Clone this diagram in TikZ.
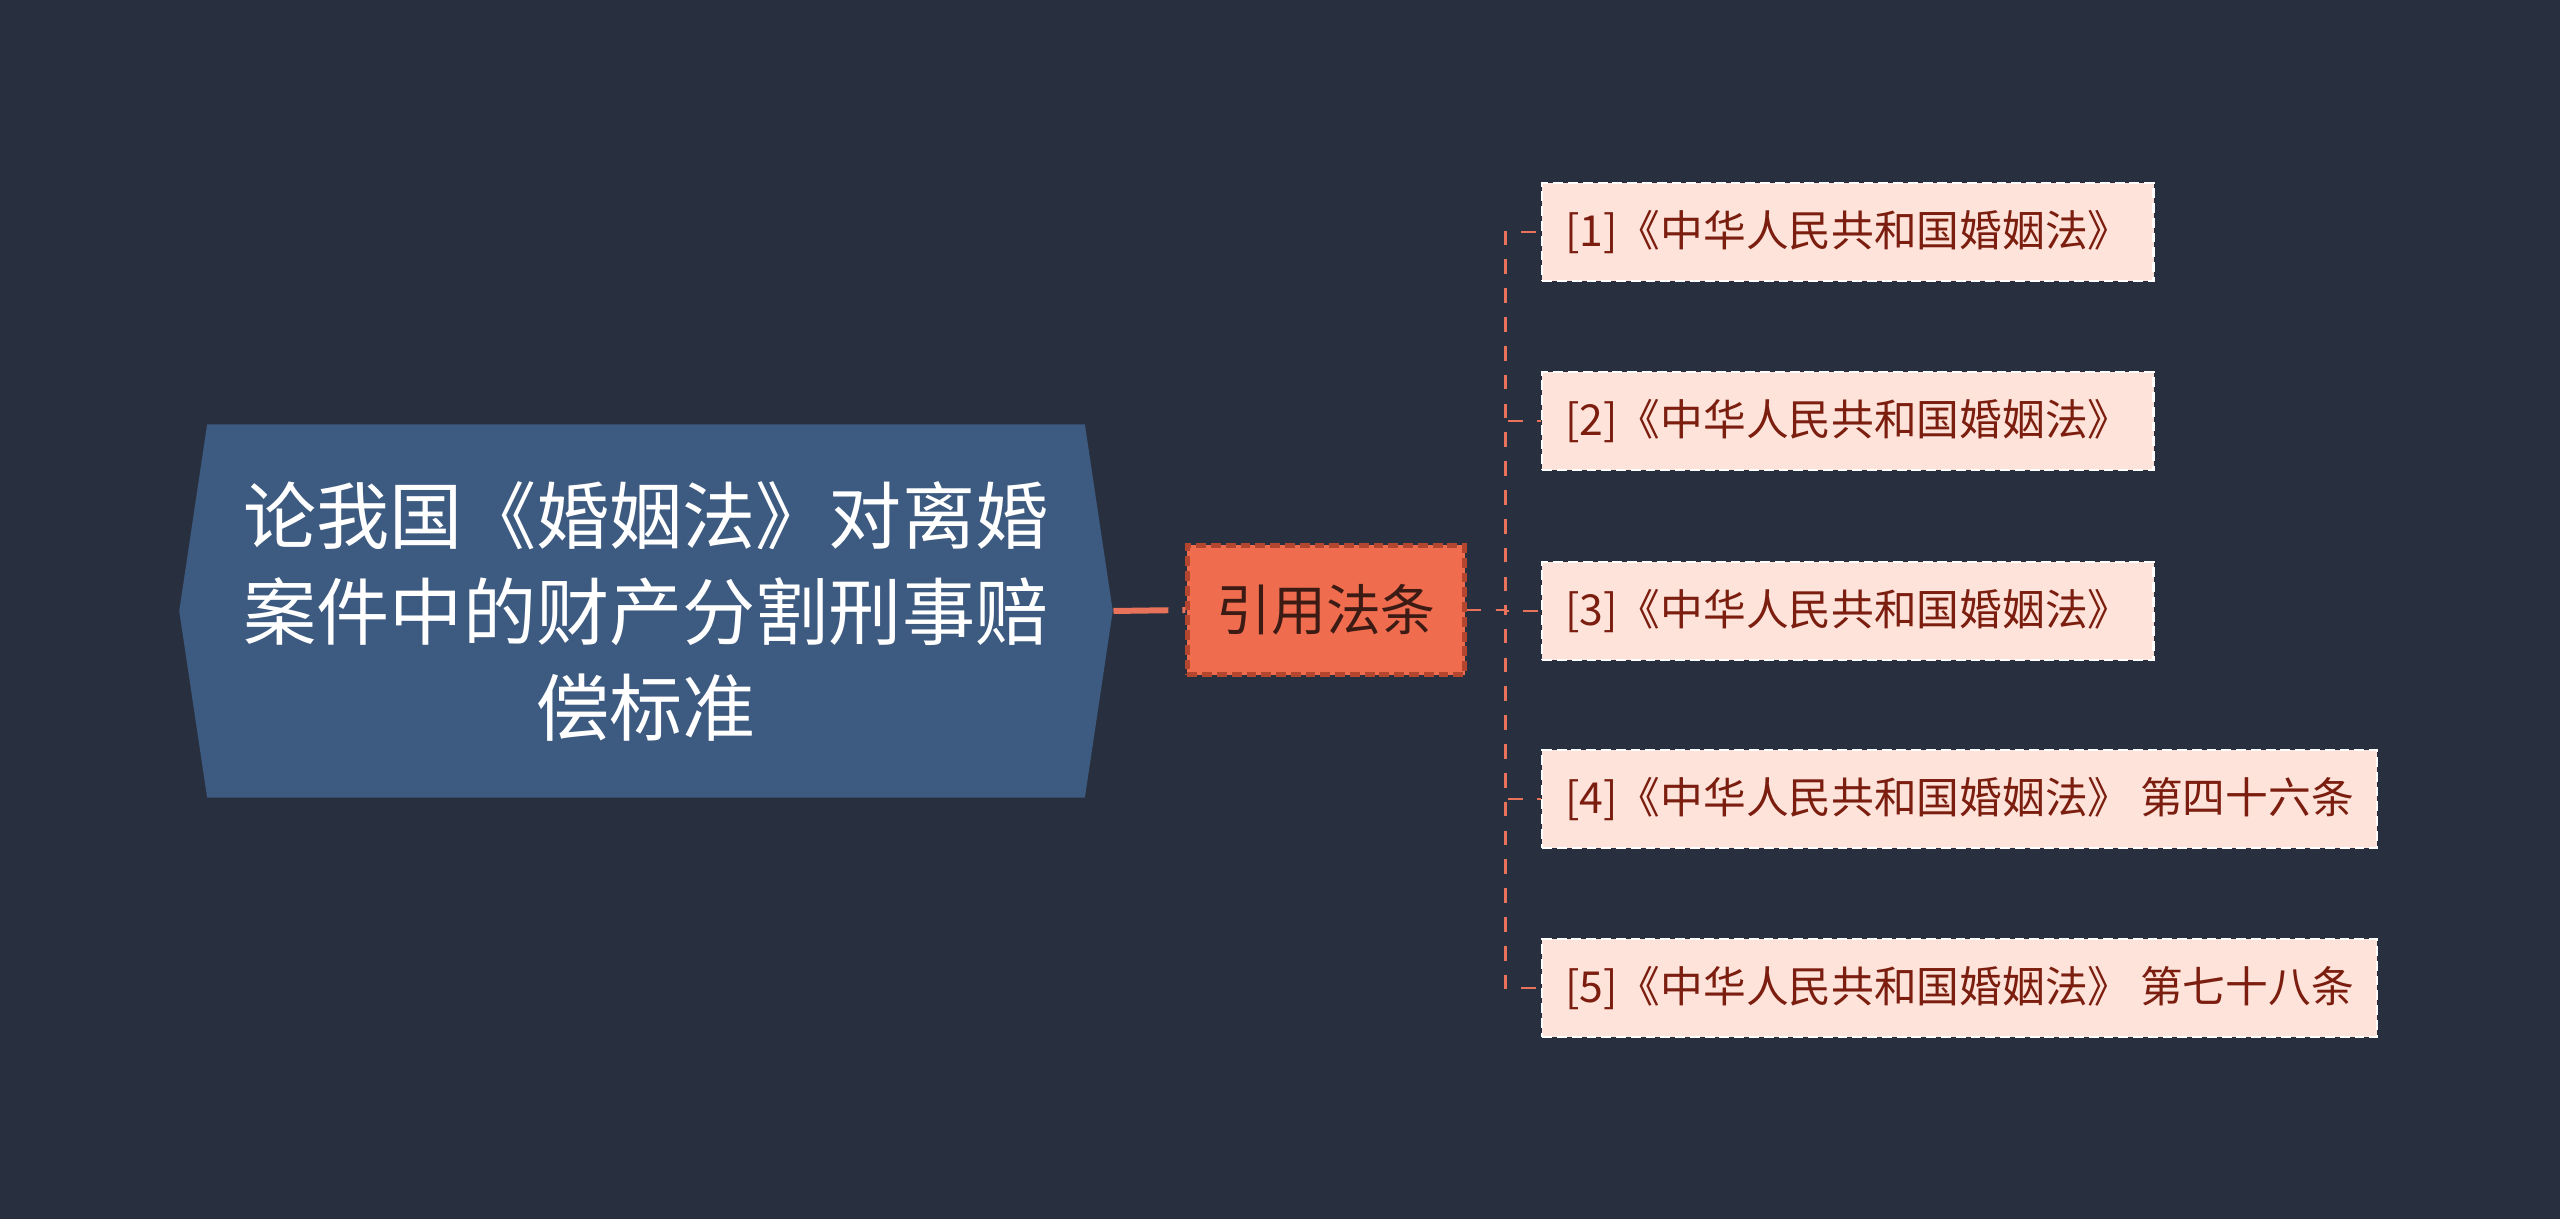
\documentclass[tikz,border=0pt]{standalone}
\usepackage{fontspec}
\setmainfont{Noto Sans CJK SC}
\usetikzlibrary{positioning,shapes.symbols,calc}
\definecolor{BgColor}{HTML}{282F3E}
\definecolor{RootColor}{HTML}{3D5A80}
\definecolor{MidColor}{HTML}{EF6C4F}
\definecolor{MidLine}{HTML}{B4462F}
\definecolor{LeafColor}{HTML}{FDE3DA}
\definecolor{LeafText}{HTML}{7B1E0F}
\definecolor{LinkColor}{HTML}{E8735A}
\tikzset{rootbox/.style={shape=signal,signal to=west and east,signal pointer angle=163,
			fill=RootColor,text=white,align=center,minimum width=9.33cm,minimum height=3.73cm,
			inner sep=0pt,font=\fontsize{20.8}{27.3}\selectfont},
	midbox/.style={draw=MidLine,fill=MidColor,line width=1.2pt,dash pattern=on 2.8pt off 1.4pt,
			text=black!75!MidColor,minimum width=2.77cm,minimum height=1.29cm,inner sep=0pt,
			font=\fontsize{15.6}{18}\selectfont},
	leafbox/.style={draw=white,fill=LeafColor,line width=0.7pt,dash pattern=on 2.8pt off 1.4pt,
			text=LeafText,anchor=west,minimum height=0.98cm,inner xsep=0.23cm,inner ysep=0pt,
			font=\fontsize{12.15}{15}\selectfont},
	rootlink/.style={draw=LinkColor,line width=1.7pt,dash pattern=on 15.6pt off 4pt},
	leaflink/.style={draw=LinkColor,line width=0.8pt,dash pattern=on 4.2pt off 4pt}}

\begin{document}
\begin{tikzpicture}[x=0.01cm,y=-0.01cm]
	\useasboundingbox (0,0) rectangle (2560,1219);
	\fill[BgColor] (0,0) rectangle (2560,1219);
	\node[rootbox] (root) at (646,611) {论我国《婚姻法》对离婚\\案件中的财产分割刑事赔\\偿标准};
	\node[midbox] (mid) at (1326,610) {引用法条};
	\node[leafbox] (l1) at (1541,232) {[1]《中华人民共和国婚姻法》};
	\node[leafbox] (l2) at (1541,421) {[2]《中华人民共和国婚姻法》};
	\node[leafbox] (l3) at (1541,611) {[3]《中华人民共和国婚姻法》};
	\node[leafbox] (l4) at (1541,799) {[4]《中华人民共和国婚姻法》 第四十六条};
	\node[leafbox] (l5) at (1541,988) {[5]《中华人民共和国婚姻法》 第七十八条};
	\coordinate (bus) at ($(mid.east)+(39,0)$);
	\draw[rootlink] (root.east) -- (mid.west);
	\foreach \i in {1,...,5}
		\draw[leaflink] (mid.east) -- (bus) |- (l\i.west);
\end{tikzpicture}
\end{document}
